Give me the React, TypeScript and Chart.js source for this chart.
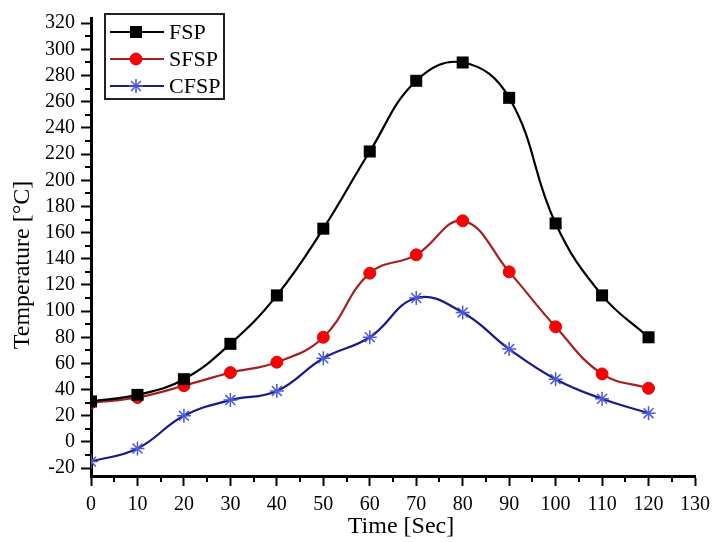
import React, { useEffect, useRef } from "react";
import { Chart, registerables } from "chart.js";

Chart.register(...registerables);

const timeSec = [0, 10, 20, 30, 40, 50, 60, 70, 80, 90, 100, 110, 120];
const fsp = [31, 36, 48, 75, 112, 163, 222, 276, 290, 263, 167, 112, 80];
const sfsp = [30, 34, 43, 53, 61, 80, 129, 143, 169, 130, 88, 52, 41];
const cfsp = [-15, -5, 20, 32, 39, 64, 80, 110, 99, 71, 48, 33, 22];
const yTicks = [-20, 0, 20, 40, 60, 80, 100, 120, 140, 160, 180, 200, 220, 240, 260, 280, 300, 320];
const xTicks = [0, 10, 20, 30, 40, 50, 60, 70, 80, 90, 100, 110, 120, 130];
const seriesNames = ["FSP", "SFSP", "CFSP"];
const xTitle = "Time [Sec]";
const yTitle = "Temperature [°C]";

const FONT = "'Liberation Serif', 'Times New Roman', serif";

const toXY = (ys: number[]) => ys.map((y, i) => ({ x: timeSec[i], y }));

const minorTicks = {
  id: "minorTicks",
  afterDraw(chart: any) {
    const { ctx, chartArea } = chart;
    const xs = chart.scales.x;
    const ys = chart.scales.y;
    ctx.save();
    ctx.strokeStyle = "#000";
    ctx.lineWidth = 2;
    ctx.beginPath();
    for (let i = 0; i < xTicks.length - 1; i++) {
      const v = (xTicks[i] + xTicks[i + 1]) / 2;
      const px = Math.round(xs.getPixelForValue(v));
      ctx.moveTo(px, chartArea.bottom);
      ctx.lineTo(px, chartArea.bottom + 6);
    }
    for (let i = 0; i < yTicks.length - 1; i++) {
      const v = (yTicks[i] + yTicks[i + 1]) / 2;
      const py = Math.round(ys.getPixelForValue(v));
      ctx.moveTo(chartArea.left, py);
      ctx.lineTo(chartArea.left - 6, py);
    }
    ctx.stroke();
    ctx.restore();
  },
};

const axisTitles = {
  id: "axisTitles",
  afterDraw(chart: any) {
    const { ctx } = chart;
    ctx.save();
    ctx.fillStyle = "#000";
    ctx.font = `24px ${FONT}`;
    ctx.textAlign = "center";
    ctx.textBaseline = "middle";
    ctx.fillText(xTitle, 401, 527);
    ctx.translate(23, 265);
    ctx.rotate(-Math.PI / 2);
    ctx.fillText(yTitle, 0, 0);
    ctx.restore();
  },
};

function drawPt(ctx: CanvasRenderingContext2D, style: string, r: number, x: number, y: number, bw: number) {
  ctx.beginPath();
  if (style === "rect") {
    const s = Math.SQRT1_2 * r;
    ctx.rect(x - s, y - s, 2 * s, 2 * s);
    ctx.fill();
    if (bw > 0) ctx.stroke();
  } else if (style === "circle") {
    ctx.arc(x, y, r, 0, Math.PI * 2);
    ctx.fill();
    if (bw > 0) ctx.stroke();
  } else {
    ctx.moveTo(x - r, y);
    ctx.lineTo(x + r, y);
    ctx.moveTo(x, y - r);
    ctx.lineTo(x, y + r);
    const d = r * Math.SQRT1_2;
    ctx.moveTo(x - d, y - d);
    ctx.lineTo(x + d, y + d);
    ctx.moveTo(x - d, y + d);
    ctx.lineTo(x + d, y - d);
    ctx.stroke();
  }
}

const boxLegend = {
  id: "boxLegend",
  afterDraw(chart: any) {
    const { ctx } = chart;
    const bx = 105, by = 14, bw = 119, bh = 85;
    ctx.save();
    ctx.fillStyle = "#fff";
    ctx.fillRect(bx, by, bw, bh);
    ctx.strokeStyle = "#222";
    ctx.lineWidth = 2;
    ctx.strokeRect(bx, by, bw, bh);
    const rowH = 27;
    chart.data.datasets.forEach((ds: any, i: number) => {
      const cy = by + 18 + i * rowH;
      ctx.strokeStyle = ds.borderColor;
      ctx.lineWidth = 2;
      ctx.beginPath();
      ctx.moveTo(bx + 5, cy);
      ctx.lineTo(bx + 59, cy);
      ctx.stroke();
      ctx.fillStyle = ds.pointBackgroundColor;
      ctx.strokeStyle = ds.pointBorderColor;
      ctx.lineWidth = ds.pointBorderWidth;
      drawPt(ctx, ds.pointStyle, ds.pointRadius, bx + 31, cy, ds.pointBorderWidth);
      ctx.fillStyle = "#000";
      ctx.font = `22px ${FONT}`;
      ctx.textBaseline = "middle";
      ctx.textAlign = "left";
      ctx.fillText(ds.label, bx + 64, cy + 1);
    });
    ctx.restore();
  },
};

export default function App() {
  const ref = useRef<HTMLCanvasElement | null>(null);
  useEffect(() => {
    if (!ref.current) return;
    Chart.defaults.font.family = FONT;
    Chart.defaults.color = "#000";
    const chart = new Chart(ref.current, {
      type: "line",
      data: {
        datasets: [
          {
            label: seriesNames[0],
            data: toXY(fsp),
            borderColor: "#000000",
            borderWidth: 2.2,
            pointStyle: "rect",
            pointRadius: 8.5,
            pointBackgroundColor: "#000000",
            pointBorderColor: "#000000",
            pointBorderWidth: 0,
            tension: 0.42,
          },
          {
            label: seriesNames[1],
            data: toXY(sfsp),
            borderColor: "#a52020",
            borderWidth: 2.2,
            pointStyle: "circle",
            pointRadius: 6,
            pointBackgroundColor: "#ff0000",
            pointBorderColor: "#d01010",
            pointBorderWidth: 1,
            tension: 0.42,
          },
          {
            label: seriesNames[2],
            data: toXY(cfsp),
            borderColor: "#1a1a8a",
            borderWidth: 2.2,
            pointStyle: "star",
            pointRadius: 7,
            pointBackgroundColor: "#4a5ad8",
            pointBorderColor: "#4a5ad8",
            pointBorderWidth: 1.5,
            tension: 0.42,
          },
        ] as any,
      },
      options: {
        responsive: false,
        animation: false,
        layout: { padding: { top: 13, right: 26, left: 0, bottom: 0 } },
        plugins: { legend: { display: false }, tooltip: { enabled: false } },
        scales: {
          x: {
            type: "linear",
            min: 0,
            max: 130,
            afterBuildTicks: (s: any) => {
              s.ticks = xTicks.map((v) => ({ value: v }));
            },
            afterFit: (s: any) => {
              s.height = 66;
            },
            grid: {
              display: true,
              drawOnChartArea: false,
              drawTicks: true,
              tickLength: 10,
              tickWidth: 2,
              tickColor: "#000",
            },
            border: { display: true, color: "#000", width: 3 },
            ticks: { font: { size: 20 }, padding: 7, maxRotation: 0, autoSkip: false, color: "#000" },
            title: { display: false },
          },
          y: {
            type: "linear",
            min: -26,
            max: 324,
            afterBuildTicks: (s: any) => {
              s.ticks = yTicks.map((v) => ({ value: v }));
            },
            afterFit: (s: any) => {
              s.width = 91;
            },
            grid: {
              display: true,
              drawOnChartArea: false,
              drawTicks: true,
              tickLength: 10,
              tickWidth: 2,
              tickColor: "#000",
            },
            border: { display: true, color: "#000", width: 3 },
            ticks: { font: { size: 20 }, padding: 6, autoSkip: false, color: "#000" },
            title: { display: false },
          },
        },
      },
      plugins: [minorTicks, axisTitles, boxLegend],
    });
    return () => chart.destroy();
  }, []);
  return (
    <div style={{ position: "fixed", left: 0, top: 0, width: 721, height: 542, background: "#fff" }}>
      <canvas ref={ref} width={721} height={542} />
    </div>
  );
}
